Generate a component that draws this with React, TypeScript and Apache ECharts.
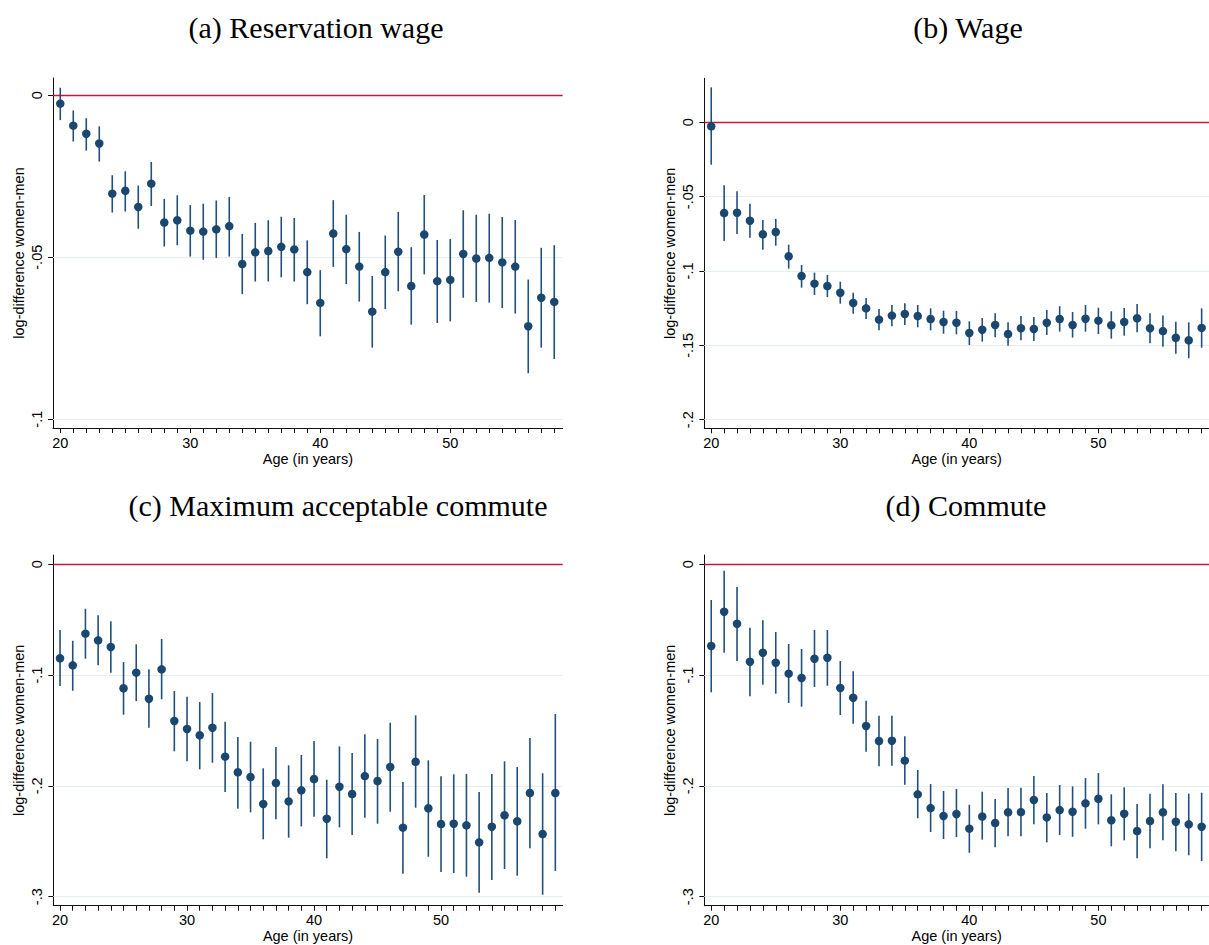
import React, { useEffect, useRef } from "react";
import * as echarts from "echarts";

// ---------- data ----------
const ages20to58 = [20, 21, 22, 23, 24, 25, 26, 27, 28, 29, 30, 31, 32, 33, 34, 35, 36, 37, 38, 39, 40, 41, 42, 43, 44, 45, 46, 47, 48, 49, 50, 51, 52, 53, 54, 55, 56, 57, 58];
const ages20to59 = [20, 21, 22, 23, 24, 25, 26, 27, 28, 29, 30, 31, 32, 33, 34, 35, 36, 37, 38, 39, 40, 41, 42, 43, 44, 45, 46, 47, 48, 49, 50, 51, 52, 53, 54, 55, 56, 57, 58, 59];

// (a) Reservation wage
const estA = [-0.0026, -0.0094, -0.0119, -0.0149, -0.0304, -0.0295, -0.0345, -0.0273, -0.0393, -0.0386, -0.0418, -0.0421, -0.0414, -0.0404, -0.0521, -0.0485, -0.0481, -0.0468, -0.0476, -0.0546, -0.0641, -0.0427, -0.0475, -0.0529, -0.0668, -0.0546, -0.0483, -0.0589, -0.043, -0.0574, -0.057, -0.049, -0.0504, -0.0502, -0.0516, -0.0529, -0.0713, -0.0625, -0.0638];
const hiA = [0.0023, -0.0047, -0.0071, -0.0096, -0.0247, -0.0235, -0.0279, -0.0206, -0.032, -0.0309, -0.0339, -0.0335, -0.0325, -0.0314, -0.0428, -0.0394, -0.0386, -0.0375, -0.0379, -0.0448, -0.054, -0.0324, -0.0369, -0.0422, -0.0558, -0.0433, -0.036, -0.0469, -0.0308, -0.0447, -0.0444, -0.0355, -0.0369, -0.0366, -0.0376, -0.0385, -0.0569, -0.0471, -0.0463];
const loA = [-0.0077, -0.0143, -0.0171, -0.0205, -0.0362, -0.0359, -0.0412, -0.0342, -0.0467, -0.0463, -0.0498, -0.0508, -0.0502, -0.0498, -0.0614, -0.0575, -0.0575, -0.0562, -0.0575, -0.0645, -0.0744, -0.053, -0.0583, -0.0637, -0.0779, -0.066, -0.0605, -0.0708, -0.0553, -0.0703, -0.0698, -0.0625, -0.0638, -0.064, -0.0657, -0.0674, -0.0858, -0.0779, -0.0814];

// (b) Wage
const estB = [-0.0027, -0.061, -0.0608, -0.0662, -0.0753, -0.0738, -0.0901, -0.1034, -0.1085, -0.1101, -0.1146, -0.1215, -0.1251, -0.1327, -0.13, -0.1289, -0.1303, -0.1323, -0.1343, -0.1348, -0.1417, -0.1395, -0.1363, -0.1424, -0.1385, -0.139, -0.1348, -0.1323, -0.1363, -0.1321, -0.1334, -0.1365, -0.1343, -0.1318, -0.1385, -0.1404, -0.1449, -0.1466, -0.1383];
const hiB = [0.0235, -0.0424, -0.0464, -0.0547, -0.0657, -0.065, -0.0823, -0.096, -0.1011, -0.1027, -0.1072, -0.1146, -0.1182, -0.1256, -0.1229, -0.1217, -0.1229, -0.1251, -0.1267, -0.1269, -0.1338, -0.1316, -0.1285, -0.1345, -0.1303, -0.1309, -0.1262, -0.1237, -0.1276, -0.1229, -0.1247, -0.1271, -0.1249, -0.1222, -0.1285, -0.13, -0.1341, -0.1345, -0.1251];
const loB = [-0.0285, -0.0798, -0.0751, -0.0776, -0.0857, -0.083, -0.0984, -0.1112, -0.1161, -0.1175, -0.122, -0.1287, -0.1323, -0.1399, -0.1372, -0.1363, -0.1379, -0.1399, -0.1422, -0.1426, -0.1498, -0.1475, -0.1446, -0.1502, -0.1466, -0.1471, -0.143, -0.1408, -0.1448, -0.1408, -0.1424, -0.1455, -0.1435, -0.1412, -0.1486, -0.1509, -0.1556, -0.1587, -0.1516];

// (c) Maximum acceptable commute
const estC = [-0.0848, -0.0912, -0.0626, -0.0686, -0.0746, -0.1119, -0.0978, -0.1213, -0.0948, -0.1414, -0.1486, -0.1543, -0.1475, -0.1736, -0.1877, -0.192, -0.2163, -0.1974, -0.214, -0.204, -0.1938, -0.2296, -0.2007, -0.2073, -0.1911, -0.1956, -0.1829, -0.2377, -0.1782, -0.2202, -0.2344, -0.2341, -0.2356, -0.2509, -0.2368, -0.2265, -0.2319, -0.2064, -0.2434, -0.2064];
const hiC = [-0.0593, -0.069, -0.0401, -0.046, -0.0514, -0.0882, -0.0722, -0.0948, -0.0674, -0.1144, -0.1195, -0.1243, -0.1162, -0.142, -0.1559, -0.1601, -0.1841, -0.1649, -0.1814, -0.1721, -0.1595, -0.1944, -0.1643, -0.1703, -0.1534, -0.1577, -0.143, -0.1965, -0.1363, -0.1769, -0.1913, -0.1895, -0.1893, -0.2055, -0.1893, -0.1778, -0.1829, -0.1568, -0.1886, -0.1351];
const loC = [-0.1098, -0.1141, -0.0852, -0.0912, -0.0978, -0.1357, -0.1234, -0.1475, -0.1218, -0.1688, -0.1778, -0.185, -0.1791, -0.2055, -0.2206, -0.2238, -0.2482, -0.2301, -0.2467, -0.2365, -0.2278, -0.2653, -0.2374, -0.2443, -0.2287, -0.2341, -0.2233, -0.2792, -0.2197, -0.2639, -0.2777, -0.2786, -0.2819, -0.2964, -0.2849, -0.275, -0.281, -0.2563, -0.2982, -0.2768];

// (d) Commute
const estD = [-0.0737, -0.0428, -0.0536, -0.0879, -0.0798, -0.0888, -0.0987, -0.1026, -0.0852, -0.0843, -0.1116, -0.1204, -0.1459, -0.1595, -0.1592, -0.1772, -0.2076, -0.22, -0.2271, -0.2253, -0.2386, -0.2276, -0.2335, -0.2238, -0.2236, -0.2127, -0.2284, -0.2218, -0.2233, -0.2157, -0.2116, -0.231, -0.2251, -0.2407, -0.2317, -0.2238, -0.2323, -0.2347, -0.2368];
const hiD = [-0.0322, -0.0058, -0.0205, -0.0572, -0.0505, -0.0611, -0.0719, -0.0764, -0.0593, -0.0593, -0.0873, -0.0966, -0.1231, -0.1366, -0.1366, -0.1552, -0.1856, -0.1983, -0.2046, -0.2028, -0.217, -0.2052, -0.2118, -0.2019, -0.2016, -0.1911, -0.2064, -0.1992, -0.2004, -0.1929, -0.1884, -0.2076, -0.2013, -0.2163, -0.207, -0.1986, -0.2064, -0.207, -0.2061];
const loD = [-0.1155, -0.0798, -0.0873, -0.1191, -0.1087, -0.1168, -0.1252, -0.1285, -0.1107, -0.1096, -0.136, -0.1439, -0.1691, -0.1823, -0.1818, -0.1989, -0.2292, -0.2416, -0.2479, -0.2461, -0.2603, -0.2485, -0.2554, -0.2455, -0.2455, -0.2347, -0.2509, -0.2443, -0.2459, -0.2386, -0.2347, -0.2545, -0.2491, -0.2653, -0.2563, -0.2491, -0.259, -0.2626, -0.2678];

const yTicksA = [0, -0.05, -0.1];
const yTicksB = [0, -0.05, -0.1, -0.15, -0.2];
const yTicksCD = [0, -0.1, -0.2, -0.3];
const xTickLabels = [20, 30, 40, 50];
const panelTitles = ["(a) Reservation wage", "(b) Wage", "(c) Maximum acceptable commute", "(d) Commute"];
const xTitle = "Age (in years)";
const yTitle = "log-difference women-men";

// ---------- styling / layout ----------
const SANS = "'Liberation Sans', Arial, sans-serif";
const SERIF = "'Liberation Serif', 'Times New Roman', serif";
const NAVY = "#1a476f";
const CI_COLOR = "#22507b";
const RED = "#c8163c";
const GRID_COLOR = "#e7eff1";
const AXIS_COLOR = "#111";

type Panel = {
  ages: number[];
  est: number[];
  lo: number[];
  hi: number[];
  yTicks: number[];
  grid: { left: number; top: number; width: number; height: number };
  xMin: number;
  xMax: number;
  yMin: number;
  yMax: number;
  title: string;
  titleX: number;
  titleY: number;
};

const panels: Panel[] = [
  {
    ages: ages20to58, est: estA, lo: loA, hi: hiA, yTicks: yTicksA,
    grid: { left: 53, top: 78, width: 509.7, height: 350 },
    xMin: 19.44, xMax: 58.65, yMin: -0.1027, yMax: 0.0053,
    title: panelTitles[0], titleX: 316, titleY: 27,
  },
  {
    ages: ages20to58, est: estB, lo: loB, hi: hiB, yTicks: yTicksB,
    grid: { left: 704.3, top: 78.3, width: 510, height: 350 },
    xMin: 19.463, xMax: 58.57, yMin: -0.2058, yMax: 0.0296,
    title: panelTitles[1], titleX: 968, titleY: 27,
  },
  {
    ages: ages20to59, est: estC, lo: loC, hi: hiC, yTicks: yTicksCD,
    grid: { left: 53.3, top: 555, width: 509.4, height: 350.7 },
    xMin: 19.47, xMax: 59.58, yMin: -0.3081, yMax: 0.0084,
    title: panelTitles[2], titleX: 338, titleY: 505,
  },
  {
    ages: ages20to58, est: estD, lo: loD, hi: hiD, yTicks: yTicksCD,
    grid: { left: 704.3, top: 555, width: 510, height: 350.7 },
    xMin: 19.463, xMax: 58.57, yMin: -0.3081, yMax: 0.0084,
    title: panelTitles[3], titleX: 966, titleY: 505,
  },
];

function stataNum(v: number): string {
  const r = Number(v.toFixed(4));
  if (r === 0) return "0";
  const s = String(Math.abs(r)).replace(/^0\./, ".");
  return (r < 0 ? "-" : "") + s;
}

function buildOption() {
  const grids: any[] = [];
  const xAxes: any[] = [];
  const yAxes: any[] = [];
  const series: any[] = [];
  const graphics: any[] = [];

  panels.forEach((p, i) => {
    grids.push({ ...p.grid, containLabel: false });
    xAxes.push({
      gridIndex: i,
      type: "value",
      min: p.xMin,
      max: p.xMax,
      axisLine: { show: true, onZero: false, lineStyle: { color: AXIS_COLOR, width: 1 } },
      axisTick: { show: true, length: 5, customValues: p.ages, lineStyle: { color: AXIS_COLOR, width: 1 } },
      axisLabel: {
        show: true,
        customValues: xTickLabels,
        fontFamily: SANS,
        fontSize: 14.5,
        color: "#000",
        margin: 7,
      },
      splitLine: { show: false },
      name: xTitle,
      nameLocation: "middle",
      nameGap: 23,
      nameTextStyle: { fontFamily: SANS, fontSize: 14.5, color: "#000" },
    });
    yAxes.push({
      gridIndex: i,
      type: "value",
      min: p.yMin,
      max: p.yMax,
      axisLine: { show: true, onZero: false, lineStyle: { color: AXIS_COLOR, width: 1 } },
      axisTick: { show: true, length: 5, customValues: p.yTicks, lineStyle: { color: AXIS_COLOR, width: 1 } },
      axisLabel: {
        show: true,
        customValues: p.yTicks,
        rotate: 90,
        fontFamily: SANS,
        fontSize: 14.5,
        color: "#000",
        margin: 9,
        formatter: (v: number) => stataNum(v),
      },
      splitLine: { show: false },
      name: yTitle,
      nameLocation: "middle",
      nameGap: 27,
      nameRotate: 90,
      nameTextStyle: { fontFamily: SANS, fontSize: 14.5, color: "#000" },
    });

    const ciData = p.ages.map((a, k) => [a, p.lo[k], p.hi[k]]);
    const gridLines = p.yTicks
      .filter((t) => t !== 0)
      .map((t) => ({ yAxis: t, lineStyle: { color: GRID_COLOR, width: 1, type: "solid" } }));
    series.push({
      type: "custom",
      xAxisIndex: i,
      yAxisIndex: i,
      data: ciData,
      encode: { x: 0, y: [1, 2] },
      z: 2,
      silent: true,
      renderItem: (params: any, api: any) => {
        const x = api.value(0);
        const pLo = api.coord([x, api.value(1)]);
        const pHi = api.coord([x, api.value(2)]);
        return {
          type: "line",
          shape: { x1: pLo[0], y1: pLo[1], x2: pHi[0], y2: pHi[1] },
          style: { stroke: CI_COLOR, lineWidth: 1.6 },
        };
      },
      markLine: {
        silent: true,
        symbol: ["none", "none"],
        label: { show: false },
        z: 1,
        data: [...gridLines, { yAxis: 0, lineStyle: { color: RED, width: 1.4, type: "solid" } }],
      },
    });
    series.push({
      type: "scatter",
      xAxisIndex: i,
      yAxisIndex: i,
      data: p.ages.map((a, k) => [a, p.est[k]]),
      symbol: "circle",
      symbolSize: 8.5,
      itemStyle: { color: NAVY, opacity: 1 },
      emphasis: { disabled: true },
      silent: true,
      z: 3,
    });

    graphics.push({
      type: "text",
      x: p.titleX,
      y: p.titleY,
      style: {
        text: p.title,
        fontFamily: SERIF,
        fontSize: 30,
        fill: "#000",
        align: "center",
        verticalAlign: "middle",
        textAlign: "center",
        textVerticalAlign: "middle",
      },
      silent: true,
    });
  });

  return {
    animation: false,
    backgroundColor: "#ffffff",
    grid: grids,
    xAxis: xAxes,
    yAxis: yAxes,
    series,
    graphic: graphics,
  };
}

export default function App() {
  const ref = useRef<HTMLDivElement>(null);
  useEffect(() => {
    if (!ref.current) return;
    const chart = echarts.init(ref.current, undefined, { renderer: "svg" });
    chart.setOption(buildOption() as any);
    return () => chart.dispose();
  }, []);
  return (
    <div
      ref={ref}
      style={{ position: "absolute", left: 0, top: 0, width: 1209, height: 945, background: "#fff" }}
    />
  );
}
